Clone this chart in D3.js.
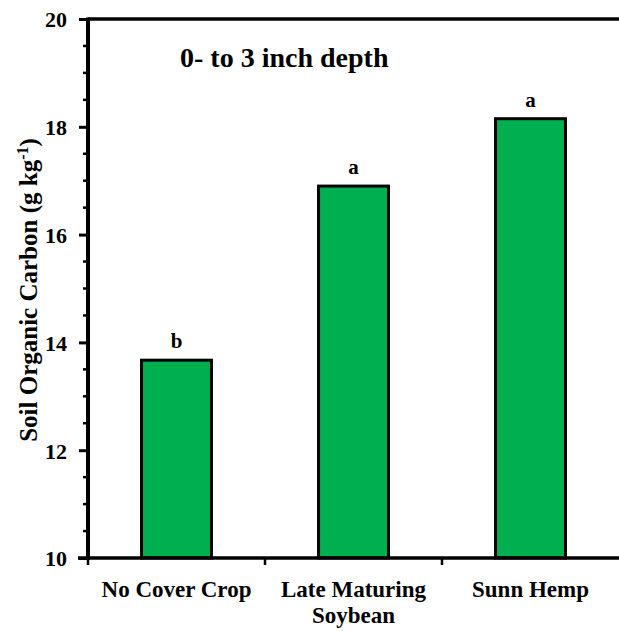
<!DOCTYPE html>
<html lang="en">
<head>
<meta charset="UTF-8">
<title>Soil Organic Carbon</title>
<script src="https://d3js.org/d3.v7.min.js"></script>
<style>
  body { margin: 0; background: #fff; }
  svg text { font-family: "Liberation Serif", "Times New Roman", serif; font-weight: bold; fill: #000; }
</style>
</head>
<body>
<div id="chart"></div>
<script>
// data
const categories = ["No Cover Crop", "Late Maturing Soybean", "Sunn Hemp"];
const labelLines = [["No Cover Crop"], ["Late Maturing", "Soybean"], ["Sunn Hemp"]];
const carbon = [13.67, 16.9, 18.15];
const letters = ["b", "a", "a"];
const yTicks = [10, 12, 14, 16, 18, 20];

const W = 619, H = 631;
const margin = { top: 19, right: 0, bottom: 73, left: 88 };

const svg = d3.select("#chart").append("svg")
    .attr("width", W).attr("height", H);

const x = d3.scaleBand()
    .domain(categories)
    .range([margin.left, W - margin.right])
    .paddingInner(0.605).paddingOuter(0.3025);

const y = d3.scaleLinear()
    .domain([10, 20])
    .range([H - margin.bottom, margin.top]);

// bars
svg.selectAll(".bar")
    .data(categories)
    .join("rect")
    .attr("class", "bar")
    .attr("x", d => x(d))
    .attr("width", x.bandwidth())
    .attr("y", (d, i) => y(carbon[i]))
    .attr("height", (d, i) => y(10) - y(carbon[i]))
    .attr("fill", "#00b050")
    .attr("stroke", "#000")
    .attr("stroke-width", 3);

// significance letters
svg.selectAll(".letter")
    .data(categories)
    .join("text")
    .attr("class", "letter")
    .attr("x", d => x(d) + x.bandwidth() / 2)
    .attr("y", (d, i) => y(carbon[i]) - 12)
    .attr("text-anchor", "middle")
    .style("font-size", "21px")
    .text((d, i) => letters[i]);

// y axis with minor ticks
const yMinor = d3.range(10, 20.01, 0.5).filter(v => v % 2 !== 0);
const yAxisG = svg.append("g").attr("transform", `translate(${margin.left},0)`);
yAxisG.selectAll(".minor")
    .data(yMinor)
    .join("line")
    .attr("x1", -5).attr("x2", 0)
    .attr("y1", d => y(d)).attr("y2", d => y(d))
    .attr("stroke", "#000").attr("stroke-width", 2.5);
yAxisG.call(d3.axisLeft(y).tickValues(yTicks).tickSize(9).tickPadding(12))
    .call(g => g.select(".domain").remove())
    .call(g => g.selectAll(".tick line").attr("stroke-width", 3))
    .call(g => g.selectAll(".tick text").style("font-size", "22px").attr("dy", "0.36em"));
svg.append("line")
    .attr("x1", margin.left).attr("x2", margin.left)
    .attr("y1", y(20) - 1.5).attr("y2", y(10) + 1.5)
    .attr("stroke", "#000").attr("stroke-width", 4);

// top frame line
svg.append("line")
    .attr("x1", margin.left).attr("x2", W)
    .attr("y1", y(20)).attr("y2", y(20))
    .attr("stroke", "#000").attr("stroke-width", 3.5);

// x axis: ticks between categories
const xBounds = [0, 1, 2].map(i => margin.left + i * (W - margin.right - margin.left) / 3);
svg.selectAll(".xtick")
    .data(xBounds)
    .join("line")
    .attr("x1", d => d).attr("x2", d => d)
    .attr("y1", y(10)).attr("y2", y(10) + 7)
    .attr("stroke", "#000").attr("stroke-width", 2.5);
svg.append("line")
    .attr("x1", margin.left - 10).attr("x2", W)
    .attr("y1", y(10)).attr("y2", y(10))
    .attr("stroke", "#000").attr("stroke-width", 3.5);

// x labels
svg.selectAll(".xlab")
    .data(categories)
    .join("text")
    .attr("class", "xlab")
    .attr("text-anchor", "middle")
    .attr("x", d => x(d) + x.bandwidth() / 2)
    .attr("y", 597)
    .style("font-size", "23px")
    .each(function(d, i) {
        d3.select(this).selectAll("tspan")
            .data(labelLines[i])
            .join("tspan")
            .attr("x", x(d) + x.bandwidth() / 2)
            .attr("dy", (t, j) => j === 0 ? 0 : 26)
            .text(t => t);
    });

// y title
const yt = svg.append("text")
    .attr("transform", `translate(37,290) rotate(-90)`)
    .attr("text-anchor", "middle")
    .style("font-size", "25px");
yt.append("tspan").text("Soil Organic Carbon (g kg");
yt.append("tspan").attr("dy", -9).style("font-size", "16px").text("-1");
yt.append("tspan").attr("dy", 9).text(")");

// panel title
svg.append("text")
    .attr("x", 180).attr("y", 67)
    .style("font-size", "28px")
    .text("0- to 3 inch depth");
</script>
</body>
</html>
